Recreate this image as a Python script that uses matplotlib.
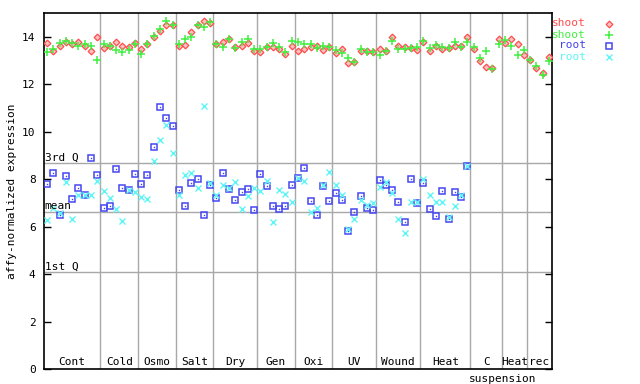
import matplotlib
matplotlib.use('Agg')
import matplotlib.pyplot as plt
from matplotlib.lines import Line2D
import numpy as np

# --- データ ---
groups = ['Cont', 'Cold', 'Osmo', 'Salt', 'Dry', 'Gen', 'Oxi', 'UV', 'Wound', 'Heat', 'C', 'Heat', 'rec']
group_sizes = [9, 6, 6, 6, 7, 6, 6, 7, 7, 8, 5, 4, 4]

shoot_red = [13.75, 13.41, 13.63, 13.76, 13.71, 13.76, 13.62, 13.41, 14.00,
             13.52, 13.63, 13.79, 13.63, 13.58, 13.75,
             13.49, 13.69, 14.00, 14.25, 14.48, 14.49,
             13.63, 13.66, 14.18, 14.48, 14.67, 14.56,
             13.68, 13.76, 13.92, 13.56, 13.62, 13.75, 13.41,
             13.35, 13.58, 13.58, 13.49, 13.28, 13.63,
             13.41, 13.49, 13.58, 13.61, 13.45, 13.58,
             13.33, 13.47, 12.90, 12.95, 13.41, 13.41, 13.37,
             13.49, 13.41, 14.00, 13.63, 13.58, 13.54, 13.45,
             13.79, 13.41, 13.63, 13.49, 13.54, 13.62, 13.62, 14.00,
             13.49, 12.99, 12.74, 12.68, 13.89,
             13.75, 13.92, 13.71, 13.24,
             13.03, 12.69, 12.48, 13.16]

shoot_green = [13.37, 13.49, 13.75, 13.83, 13.75, 13.63, 13.71, 13.62, 13.03,
               13.71, 13.62, 13.45, 13.37, 13.45, 13.68,
               13.28, 13.71, 14.01, 14.34, 14.67, 14.49,
               13.68, 13.92, 14.00, 14.48, 14.42, 14.63,
               13.68, 13.58, 13.92, 13.54, 13.79, 13.92, 13.49,
               13.49, 13.58, 13.75, 13.58, 13.37, 13.83,
               13.79, 13.71, 13.71, 13.54, 13.62, 13.58,
               13.45, 13.33, 13.12, 12.95, 13.49, 13.37, 13.37,
               13.24, 13.41, 13.83, 13.49, 13.49, 13.54, 13.58,
               13.83, 13.54, 13.66, 13.58, 13.54, 13.79, 13.58, 13.79,
               13.58, 13.12, 13.41, 12.62, 13.71,
               13.87, 13.62, 13.24, 13.45,
               13.03, 12.78, 12.40, 12.99]

root_blue = [7.78, 8.25, 6.48, 8.12, 7.15, 7.61, 7.32, 8.88, 8.16,
             6.77, 6.86, 8.42, 7.61, 7.53, 8.20,
             7.78, 8.16, 9.34, 11.03, 10.56, 10.23,
             7.53, 6.86, 7.83, 7.99, 6.48, 7.74,
             7.19, 8.25, 7.57, 7.11, 7.45, 7.57, 6.69,
             8.20, 7.70, 6.86, 6.73, 6.86, 7.74,
             8.04, 8.46, 7.07, 6.48, 7.70, 7.07,
             7.40, 7.11, 5.80, 6.60, 7.28, 6.77, 6.69,
             7.95, 7.74, 7.53, 7.02, 6.18, 7.99, 6.98,
             7.83, 6.73, 6.43, 7.49, 6.31, 7.45, 7.24, 8.54]

root_cyan = [6.27, 6.78, 6.56, 7.87, 6.31, 7.32, 7.32, 7.32, 7.91,
             7.49, 7.19, 6.73, 6.22, 7.53, 7.45,
             7.24, 7.15, 8.75, 9.64, 10.27, 9.09,
             7.32, 8.16, 8.25, 7.61, 11.07, 7.83,
             7.32, 7.74, 7.61, 7.87, 6.73, 7.28, 7.61,
             7.49, 7.91, 6.18, 7.53, 7.36, 7.02,
             8.04, 7.91, 6.60, 6.77, 7.74, 8.29,
             7.74, 7.32, 5.89, 6.31, 7.11, 6.90, 6.98,
             7.66, 7.87, 7.40, 6.31, 5.72, 7.02, 7.02,
             7.99, 7.32, 7.02, 7.02, 6.39, 6.86, 7.32, 8.54]

quartiles = [8.67, 6.62, 4.09]
quartile_labels = ['3rd Q', 'mean', '1st Q']

RED = '#ff4d4d'
GREEN = '#40f040'
BLUE = '#4646f0'
CYAN = '#5ff5f5'
GRID = '#a8a8a8'
FONT = 'DejaVu Sans Mono'

plt.rcParams['font.family'] = FONT
plt.rcParams['font.size'] = 8

# マーカーの見た目
STYLE_RED = dict(marker='D', ms=3.4, mfc='#ffc0c0', mec=RED, mew=0.9)
STYLE_GREEN = dict(marker='+', ms=5.4, mec=GREEN, mew=1.1)
STYLE_BLUE = dict(marker='s', ms=4.0, mfc='none', mec=BLUE, mew=1.1)
STYLE_CYAN = dict(marker='x', ms=4.0, mec=CYAN, mew=1.0)


def main():
    fig = plt.figure(figsize=(6.4, 3.84), dpi=100)
    ax = fig.add_axes([44 / 640, 15 / 384, 508 / 640, 356 / 384])

    n = len(shoot_red)
    xs = np.arange(1, n + 1)
    xr = np.arange(1, len(root_blue) + 1)

    # 区切り線と四分位線
    bounds = np.cumsum(group_sizes)[:-1] + 0.5
    for b in bounds:
        ax.axvline(b, color=GRID, lw=1, zorder=1)
    for q, lab in zip(quartiles, quartile_labels):
        ax.axhline(q, color=GRID, lw=1, zorder=1)
        ax.text(0.6, q + 0.02, lab, ha='left', va='bottom', fontsize=8, zorder=5)

    # データ点
    ax.plot(xs, shoot_red, ls='none', zorder=3, **STYLE_RED)
    ax.plot(xs, shoot_green, ls='none', zorder=4, **STYLE_GREEN)
    ax.plot(xr, root_blue, ls='none', zorder=3, **STYLE_BLUE)
    ax.plot(xr, root_blue, ls='none', marker='s', ms=1.0, mfc=BLUE, mec=BLUE, mew=0, zorder=3)
    ax.plot(xr, root_cyan, ls='none', zorder=4, **STYLE_CYAN)

    # グループ名
    starts = np.concatenate([[0], np.cumsum(group_sizes)[:-1]]) + 0.5
    for s, size, g in zip(starts, group_sizes, groups):
        ax.text(s + size / 2, 0.08, g, ha='center', va='bottom', fontsize=8)
    c_idx = groups.index('C')
    ax.text(starts[c_idx] + group_sizes[c_idx] + 0.1, -0.2, 'suspension',
            ha='center', va='top', fontsize=8, clip_on=False)

    ax.set_xlim(0.5, n + 0.5)
    ax.set_ylim(0, 15)
    ax.set_xticks([])
    ax.set_yticks(np.arange(0, 15, 2))
    ax.tick_params(axis='y', direction='in', length=5, width=1, pad=6,
                   right=True, labelright=False)
    for sp in ax.spines.values():
        sp.set_linewidth(1.2)
    ax.set_ylabel('affy-normalized expression', fontsize=8, labelpad=4)

    # 凡例
    legend_items = [('shoot', RED, STYLE_RED),
                    ('shoot', GREEN, STYLE_GREEN),
                    ('root', BLUE, STYLE_BLUE),
                    ('root', CYAN, STYLE_CYAN)]
    for k, (lab, col, mk) in enumerate(legend_items):
        yy = 1 - (23.5 + 11 * k) / 384
        fig.text(586 / 640, yy, lab, color=col, ha='right', va='center', fontsize=8)
        fig.add_artist(Line2D([609 / 640], [yy], transform=fig.transFigure, ls='none', **mk))

    plt.savefig('out.png', dpi=100)


main()
